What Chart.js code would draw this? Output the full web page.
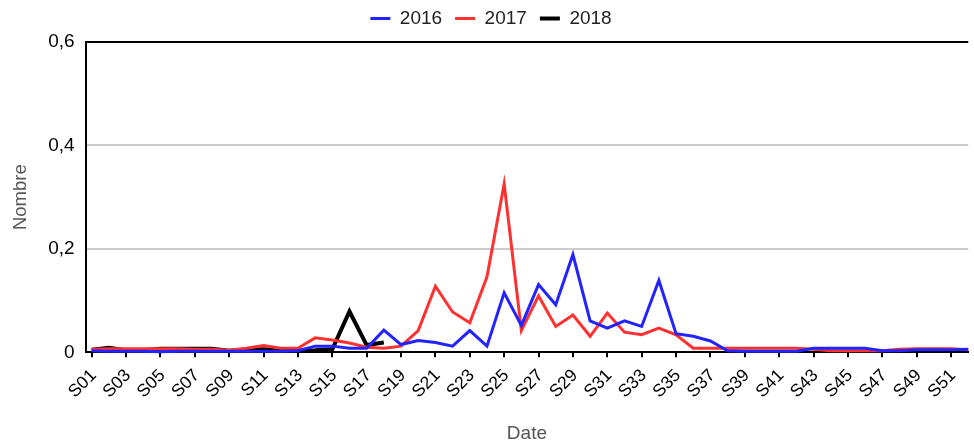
<!DOCTYPE html>
<html>
<head>
<meta charset="utf-8">
<script src="https://cdn.jsdelivr.net/npm/chart.js@4"></script>
<style>
    html, body { margin: 0; padding: 0; background: #fff; }
    #wrap { width: 974px; height: 445px; }
</style>
</head>
<body>
<div id="wrap"><canvas id="weeklyChart" width="974" height="445"></canvas></div>
<script>
// Semaines S01 .. S52
const weeks = Array.from({ length: 52 }, (_, i) => 'S' + String(i + 1).padStart(2, '0'));

const values2016 = [0.003, 0.002, 0.002, 0.002, 0.001, 0.002, 0.002, 0.002, 0.002, 0.002,
    0.002, 0.002, 0.003, 0.012, 0.012, 0.008, 0.008, 0.043, 0.015, 0.023,
    0.019, 0.012, 0.042, 0.012, 0.115, 0.052, 0.131, 0.092, 0.189, 0.061,
    0.047, 0.061, 0.050, 0.139, 0.036, 0.031, 0.022, 0.003, 0.002, 0.002,
    0.002, 0.002, 0.008, 0.008, 0.008, 0.008, 0.003, 0.003, 0.005, 0.005,
    0.005, 0.006];

const values2017 = [0.006, 0.007, 0.007, 0.007, 0.007, 0.007, 0.006, 0.006, 0.004, 0.008,
    0.013, 0.008, 0.008, 0.028, 0.024, 0.018, 0.010, 0.008, 0.012, 0.042,
    0.128, 0.078, 0.057, 0.146, 0.326, 0.042, 0.109, 0.050, 0.072, 0.031,
    0.076, 0.039, 0.034, 0.047, 0.034, 0.008, 0.008, 0.008, 0.008, 0.008,
    0.008, 0.008, 0.006, 0.003, 0.003, 0.003, 0.003, 0.006, 0.007, 0.007,
    0.007, 0.005];

// 2018 : seulement les 18 premières semaines
const values2018 = [0.005, 0.009, 0.004, 0.004, 0.007, 0.007, 0.007, 0.007, 0.003, 0.005,
    0.006, 0.004, 0.003, 0.004, 0.006, 0.079, 0.014, 0.019];

const yTicks = [0, 0.2, 0.4, 0.6];
const yTickLabels = ['0', '0,2', '0,4', '0,6'];

// une semaine sur deux affichée sous l'axe
const xTickWeeks = weeks.map((w, i) => i + 1).filter(n => n % 2 === 1);

function toPoints(values) {
    return values.map((v, i) => ({ x: i + 1, y: v }));
}

const FONT = "'Liberation Sans', Arial, sans-serif";

// Décale un peu la légende (vers le haut et la droite) sans toucher à la zone du graphique
const legendShift = {
    id: 'legendShift',
    beforeInit(chart) {
        const legend = chart.legend;
        if (!legend) return;
        const draw = legend.draw;
        legend.draw = function (...args) {
            const c = this.ctx;
            c.save();
            c.translate(5, -4);
            draw.apply(this, args);
            c.restore();
        };
    }
};

document.addEventListener('DOMContentLoaded', () => {
    const ctx = document.getElementById('weeklyChart').getContext('2d');
    new Chart(ctx, {
        type: 'line',
        data: {
            datasets: [
                { label: '2016', data: toPoints(values2016), borderColor: '#2323ff', borderWidth: 3 },
                { label: '2017', data: toPoints(values2017), borderColor: '#ff3030', borderWidth: 3 },
                { label: '2018', data: toPoints(values2018), borderColor: '#000000', borderWidth: 4 }
            ].map(ds => Object.assign(ds, {
                pointRadius: 0,
                pointHoverRadius: 0,
                tension: 0,
                fill: false,
                clip: false,
                backgroundColor: ds.borderColor
            }))
        },
        plugins: [legendShift],
        options: {
            responsive: false,
            animation: false,
            layout: { padding: { left: 2, right: 4, top: 0, bottom: 0 } },
            plugins: {
                legend: {
                    position: 'top',
                    labels: {
                        usePointStyle: true,
                        pointStyle: 'line',
                        pointStyleWidth: 20,
                        boxHeight: 16,
                        padding: 13,
                        color: '#222',
                        font: { family: FONT, size: 19 }
                    }
                },
                tooltip: { enabled: false }
            },
            scales: {
                x: {
                    type: 'linear',
                    min: 0.65,
                    max: 52,
                    afterBuildTicks: axis => {
                        axis.ticks = xTickWeeks.map(v => ({ value: v }));
                    },
                    ticks: {
                        autoSkip: false,
                        minRotation: 45,
                        maxRotation: 45,
                        padding: 8,
                        labelOffset: 2,
                        color: '#000',
                        font: { family: FONT, size: 17.5 },
                        callback: value => weeks[value - 1]
                    },
                    grid: {
                        drawOnChartArea: false,
                        drawTicks: true,
                        tickLength: 5,
                        tickColor: '#000',
                        lineWidth: 2
                    },
                    border: { display: true, color: '#000', width: 2 },
                    title: {
                        display: true,
                        text: 'Date',
                        color: '#555',
                        font: { family: FONT, size: 19 },
                        padding: { top: 12, bottom: 0 }
                    }
                },
                y: {
                    min: 0,
                    max: 0.6,
                    afterBuildTicks: axis => {
                        axis.ticks = yTicks.map(v => ({ value: v }));
                    },
                    ticks: {
                        padding: 11,
                        color: '#000',
                        font: { family: FONT, size: 19 },
                        callback: value => yTickLabels[yTicks.indexOf(value)]
                    },
                    grid: {
                        drawTicks: false,
                        lineWidth: 2,
                        color: c => (c.tick && c.tick.value === 0.6) ? '#000' : '#cccccc'
                    },
                    border: { display: true, color: '#000', width: 2 },
                    title: {
                        display: true,
                        text: 'Nombre',
                        color: '#555',
                        font: { family: FONT, size: 18.5 },
                        padding: { top: 8, bottom: 5 }
                    }
                }
            }
        }
    });
});
</script>
</body>
</html>
